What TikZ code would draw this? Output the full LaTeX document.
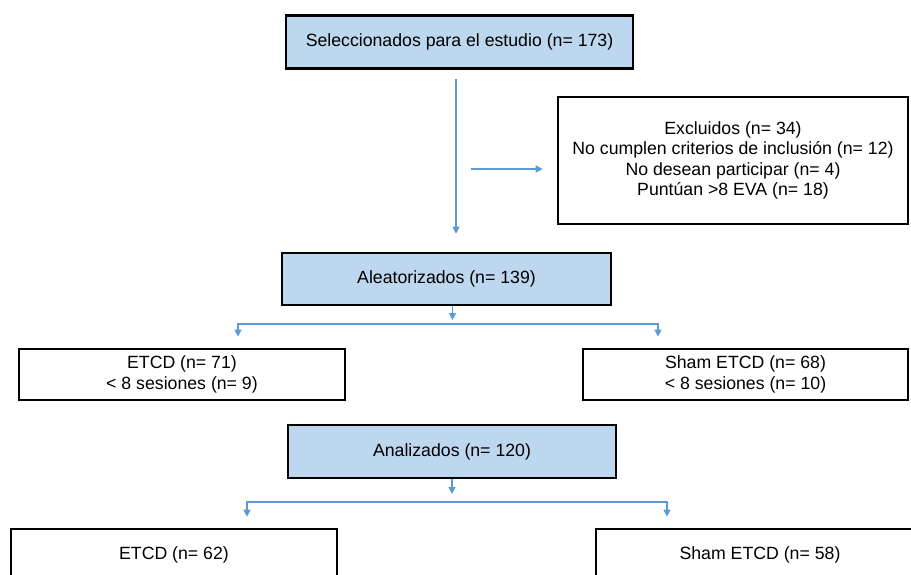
\documentclass[tikz,border=0pt]{standalone}
\usepackage{fontspec}
\setmainfont{Liberation Sans}
\usetikzlibrary{arrows.meta}

\definecolor{boxblue}{HTML}{BDD7EE}
\definecolor{lineblue}{HTML}{5B9BD5}

\begin{document}
\begin{tikzpicture}[
    x=1pt, y=-1pt,
    box/.style     = {draw=black, line width=2.6pt, align=center,
                      inner sep=0pt, font=\fontsize{17.7}{20.5}\selectfont},
    stagebox/.style = {box, fill=boxblue},
    flow/.style    = {draw=lineblue, line width=1.2pt,
                      {Triangle[length=7pt, width=7pt]}-{Triangle[length=7pt, width=7pt]}},
    flowdown/.style = {draw=lineblue, line width=1.2pt,
                      -{Triangle[length=7pt, width=7pt]}},
]
\useasboundingbox (0,0) rectangle (911,574);
\clip (0,0) rectangle (911,574);

%% Enrolment
\node[stagebox, minimum width=347, minimum height=53.5] (sel) at (459.5,42)
    {Seleccionados para el estudio (n= 173)};

%% Excluded
\node[box, minimum width=350, minimum height=127] (excl) at (733,160.5)
    {Excluidos (n= 34)\\ No cumplen criterios de inclusión (n= 12)\\
     No desean participar (n= 4)\\ Puntúan >8 EVA (n= 18)};

%% Randomised
\node[stagebox, minimum width=329, minimum height=52] (ale) at (446.5,279)
    {Aleatorizados (n= 139)};

%% Allocation
\node[box, minimum width=326, minimum height=51] (etcdA) at (182,374.5)
    {ETCD (n= 71)\\ < 8 sesiones (n= 9)};
\node[box, minimum width=325, minimum height=51] (shamA) at (745.5,374.5)
    {Sham ETCD (n= 68)\\ < 8 sesiones (n= 10)};

%% Analysed
\node[stagebox, minimum width=328, minimum height=53] (ana) at (452,451.5)
    {Analizados (n= 120)};

\node[box, minimum width=326, minimum height=52] (etcdB) at (174,555)
    {ETCD (n= 62)};
\node[box, minimum width=328, minimum height=52] (shamB) at (760,555)
    {Sham ETCD (n= 58)};

%% Branch points
\coordinate (excl-in) at (471,169);
\coordinate (brA-l)   at (238,324);
\coordinate (brA-r)   at (658,324);
\coordinate (brB-l)   at (247,502);
\coordinate (brB-r)   at (667,502);

%% Arrows
\draw[flowdown, shorten <=9pt, shorten >=18pt]
    ([xshift=-3.5pt]sel.south) -- ([xshift=-3.5pt]sel.south |- ale.north);
\draw[flowdown, shorten >=14pt] (excl-in) -- (excl-in -| excl.west);

\draw[flowdown, shorten >=4pt] ([xshift=6pt]ale.south) -- ([xshift=6pt]ale.south |- brA-l);
\draw[flow, shorten <=11pt, shorten >=11pt]
    (brA-l |- etcdA.north) -- (brA-l) -- (brA-r) -- (brA-r |- shamA.north);

\draw[flowdown, shorten >=8pt] (ana.south) -- (ana.south |- brB-l);
\draw[flow, shorten <=11pt, shorten >=11pt]
    (brB-l |- etcdB.north) -- (brB-l) -- (brB-r) -- (brB-r |- shamB.north);

\end{tikzpicture}
\end{document}
